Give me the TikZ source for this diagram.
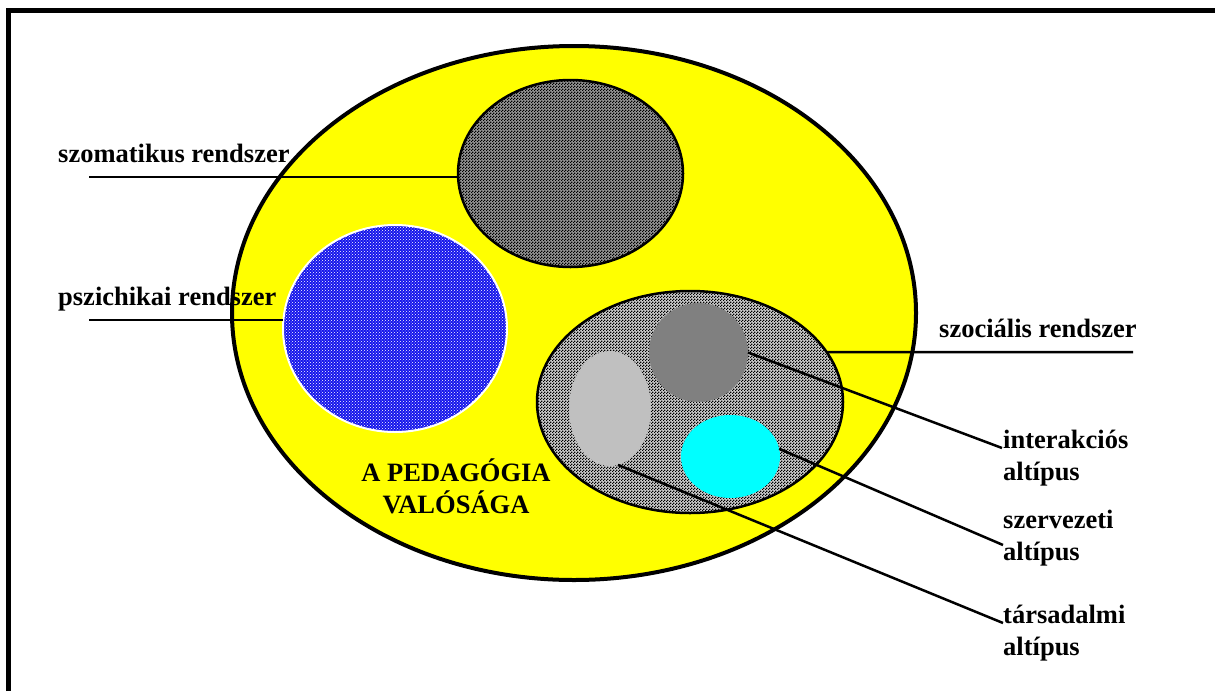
\documentclass[tikz,border=0pt]{standalone}
\usepackage{fontspec}
\setmainfont{Liberation Serif}
\usetikzlibrary{shapes.geometric,patterns}
\pgfdeclarepatternformonly{checker}{\pgfqpoint{0pt}{0pt}}{\pgfqpoint{3pt}{3pt}}{\pgfqpoint{3pt}{3pt}}{%
  \pgfpathrectangle{\pgfqpoint{0pt}{0pt}}{\pgfqpoint{1.5pt}{1.5pt}}%
  \pgfpathrectangle{\pgfqpoint{1.5pt}{1.5pt}}{\pgfqpoint{1.5pt}{1.5pt}}%
  \pgfusepath{fill}}
\definecolor{pyellow}{RGB}{255,255,0}
\definecolor{pcyan}{RGB}{0,255,255}
\definecolor{pdgray}{RGB}{128,128,128}
\definecolor{plgray}{RGB}{192,192,192}
\definecolor{pblue}{RGB}{20,20,235}
\definecolor{psgray}{RGB}{150,150,150}
\definecolor{pbase}{RGB}{205,205,205}
\begin{document}
\begin{tikzpicture}[x=1pt,y=-1pt,
  ell/.style={ellipse, inner sep=0pt, outer sep=0pt},
  lbl/.style={font=\fontsize{26.5}{32}\selectfont\bfseries, inner sep=0pt, align=left, anchor=base west},
  conn/.style={line width=2.5pt}]
\useasboundingbox (0,0) rectangle (1215,691);
% frame
\draw[line width=5pt] (8.5,691) -- (8.5,10.5) -- (1215,10.5);
% outer world
\node[ell, minimum width=684, minimum height=534, fill=pyellow, draw=black, line width=4pt] (world) at (574,313) {};
% somatic
\node[ell, minimum width=225, minimum height=187, preaction={fill=psgray},
      pattern=checker, pattern color=black, draw=black, line width=2.5pt] (som) at (570.5,173.5) {};
% psychic
\node[ell, minimum width=224, minimum height=207, preaction={fill=pblue},
      pattern=crosshatch dots, pattern color=white, draw=white, line width=2pt] (psy) at (395,328.5) {};
% social
\node[ell, minimum width=306, minimum height=222, preaction={fill=pbase},
      pattern=checker, pattern color=black, draw=black, line width=2.5pt] (soc) at (690,402) {};
\node[ell, minimum width=99, minimum height=99, fill=pdgray] (dg) at (698.5,352.5) {};
\node[ell, minimum width=82, minimum height=115, fill=plgray] (lg) at (610,408.5) {};
\node[ell, minimum width=99, minimum height=83, fill=pcyan] (cy) at (730.5,456.5) {};
% label points
\coordinate (sL) at (89,177);
\coordinate (pL) at (89,320);
\coordinate (socR) at (1133,352);
\coordinate (iP) at (1002,448);
\coordinate (szP) at (1003,545);
\coordinate (tP) at (1003,623);
% connectors
\draw[conn] (sL) -- (som.west |- sL);
\draw[conn] (pL) -- (psy.west |- pL);
\draw[conn] (soc.20) -- (socR);
\draw[conn] (dg.east) -- (iP);
\draw[conn] (cy.9) -- (szP);
\draw[conn] (lg.-82) -- (tP);
% texts (multi-line nodes: base = last line)
\node[lbl] (tsom) at (58,162) {szomatikus rendszer};
\node[lbl] (tpsy) at (58,305) {pszichikai rendszer};
\node[lbl] (tsoc) at (939,337) {szociális rendszer};
\node[lbl] (tint) at (1003,480) {interakciós\\altípus};
\node[lbl] (tsz) at (1003,560) {szervezeti\\altípus};
\node[lbl] (ttar) at (1003,655) {társadalmi\\altípus};
\node[font=\fontsize{26.5}{32}\selectfont\bfseries, inner sep=0pt, align=center, anchor=base] (tped) at (456,513) {A PEDAGÓGIA\\VALÓSÁGA};
\end{tikzpicture}
\end{document}
